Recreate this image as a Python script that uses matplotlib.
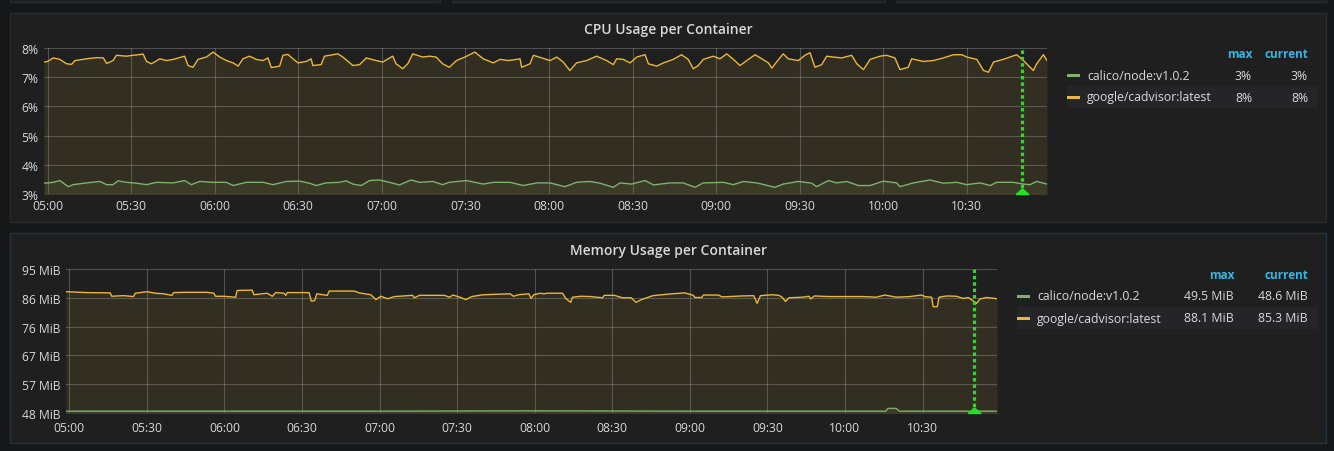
import numpy as np
import pandas as pd
import matplotlib
matplotlib.use("Agg")
import matplotlib.pyplot as plt
import matplotlib.dates as mdates
from matplotlib.patches import Rectangle
from matplotlib.ticker import FixedLocator, FuncFormatter

# ---------------------------
# Figure / theme
# ---------------------------
W, H = 1334, 452
plt.rcParams['font.family'] = ['Open Sans', 'DejaVu Sans']

PAGE_BG = '#161719'
PANEL_BG = '#1f1f20'
TEXT = '#d8d9da'
HEADER = '#33b5e5'
GRID = '#9a9a9a'
ANNO = '#22e022'

SERIES = ["calico/node:v1.0.2", "google/cadvisor:latest"]
COLORS = ['#7eb26d', '#eab839']

START = pd.Timestamp("2017-03-01 05:00")
X_FROM, X_TO = -1.3, 358.8      # minutes after 05:00
ANNOTATION_MIN = 349.8

# ---------------------------
# CPU (%), minutes after 05:00
# ---------------------------
cpu_calico_t = [-1.3, 2.0, 4.4, 7.4, 9.2, 14.0, 18.8, 21.2, 23.5, 25.3, 28.3, 31.9, 35.5,
                39.1, 45.1, 49.2, 51.6, 54.6, 59.4, 64.2, 66.6, 71.3, 77.3, 80.9, 85.7,
                90.5, 94.0, 96.4, 100.0, 104.8, 107.2, 109.6, 112.6, 115.6, 119.1, 122.7,
                126.3, 130.5, 133.5, 138.3, 141.8, 144.2,
                150.4, 156.4, 160.0, 166.0, 170.8, 175.6, 180.4, 185.7, 189.9, 194.7, 198.3,
                203.1, 205.5, 209.7, 214.5, 217.5, 223.4, 228.2, 232.4, 235.4, 242.6, 246.2,
                249.8, 254.6, 261.1, 264.1, 269.5, 274.3, 276.1, 280.3, 283.3, 286.9, 291.1,
                295.3, 300.0, 304.8, 306.0,
                310.8, 316.8, 321.6, 326.4, 330.0, 334.8, 338.4, 340.7, 346.7, 350.3, 352.7,
                355.1, 358.8]
cpu_calico_v = [3.37, 3.40, 3.46, 3.25, 3.32, 3.38, 3.43, 3.32, 3.32, 3.45, 3.40, 3.37, 3.32,
                3.40, 3.38, 3.46, 3.32, 3.43, 3.40, 3.40, 3.29, 3.40, 3.40, 3.32, 3.43,
                3.44, 3.37, 3.29, 3.38, 3.40, 3.45, 3.34, 3.29, 3.46, 3.48, 3.40,
                3.31, 3.48, 3.40, 3.43, 3.32, 3.40,
                3.46, 3.34, 3.40, 3.40, 3.29, 3.38, 3.38, 3.25, 3.40, 3.43, 3.37,
                3.23, 3.38, 3.34, 3.46, 3.31, 3.38, 3.38, 3.23, 3.38, 3.40, 3.32,
                3.43, 3.38, 3.23, 3.34, 3.43, 3.37, 3.25, 3.46, 3.38, 3.43, 3.29,
                3.29, 3.44, 3.38, 3.25,
                3.38, 3.48, 3.37, 3.40, 3.32, 3.38, 3.29, 3.40, 3.40, 3.34, 3.32,
                3.43, 3.34]

cpu_cadvisor_t = [-1.3, 0.0, 2.0, 4.4, 6.8, 8.6, 9.8, 14.0, 17.6, 20.0, 21.2, 23.5, 24.7,
                  28.3, 30.7, 34.3, 35.5, 37.3, 40.3, 42.7, 45.1, 49.2, 50.4, 52.2, 54.0,
                  57.0, 59.4, 61.8, 64.2, 66.6, 68.4, 70.1, 72.5, 74.9, 77.3, 79.1, 80.3,
                  83.3, 84.5, 86.3, 88.1, 89.9, 92.9, 94.6, 95.2, 98.2, 99.4, 102.4, 104.2,
                  106.0, 109.6, 112.0, 114.4, 117.9, 120.3, 123.9, 125.1, 127.5, 129.3, 131.1,
                  134.7, 137.1, 139.5, 141.8, 144.2,
                  146.8, 149.8, 153.4, 156.4, 160.0, 162.4, 165.4, 168.4, 169.6, 170.2, 173.2,
                  174.4, 177.4, 180.4, 182.8, 185.1, 187.5, 189.9, 193.5, 197.1, 200.7, 203.1,
                  204.3, 206.7, 209.1, 211.5, 214.5, 215.7, 218.7, 221.1, 224.6, 227.6, 230.0,
                  231.8, 233.6, 235.4, 239.0, 241.4, 243.8, 246.2, 248.6, 251.0, 254.0, 256.4,
                  258.8, 260.0, 261.7, 264.1, 265.9, 269.5, 271.9, 273.7, 275.5, 277.9, 279.7,
                  282.1, 285.1, 288.7, 290.5, 292.9, 295.3, 298.9, 301.2, 304.2, 306.0,
                  309.0, 310.2, 314.4, 318.0, 321.6, 325.2, 328.2, 330.0, 333.6, 336.0, 337.8,
                  339.6, 343.1, 345.5, 347.9, 349.7, 351.5, 353.9, 355.1, 357.5, 358.8]
cpu_cadvisor_v = [7.52, 7.54, 7.66, 7.61, 7.46, 7.44, 7.57, 7.63, 7.67, 7.66, 7.47, 7.57, 7.75,
                  7.72, 7.75, 7.79, 7.54, 7.46, 7.63, 7.57, 7.61, 7.72, 7.40, 7.34, 7.61,
                  7.69, 7.86, 7.69, 7.57, 7.49, 7.38, 7.63, 7.72, 7.61, 7.57, 7.66, 7.33,
                  7.38, 7.75, 7.78, 7.63, 7.49, 7.54, 7.63, 7.40, 7.43, 7.72, 7.77, 7.80,
                  7.69, 7.40, 7.43, 7.66, 7.57, 7.52, 7.72, 7.46, 7.29, 7.46, 7.80,
                  7.69, 7.72, 7.69, 7.46, 7.34,
                  7.57, 7.69, 7.86, 7.63, 7.49, 7.61, 7.57, 7.61, 7.63, 7.34, 7.46,
                  7.75, 7.66, 7.57, 7.69, 7.52, 7.23, 7.49, 7.57, 7.72, 7.57, 7.43,
                  7.63, 7.61, 7.49, 7.69, 7.77, 7.46, 7.38, 7.49, 7.61, 7.77, 7.61,
                  7.29, 7.40, 7.61, 7.72, 7.63, 7.80, 7.61, 7.40, 7.57, 7.77, 7.63,
                  7.49, 7.31, 7.52, 7.80, 7.63, 7.57, 7.75, 7.84, 7.34, 7.43, 7.72,
                  7.69, 7.66, 7.75, 7.46, 7.26, 7.61, 7.72, 7.75, 7.66, 7.26,
                  7.34, 7.63, 7.54, 7.57, 7.66, 7.77, 7.77, 7.69, 7.61, 7.23, 7.17,
                  7.52, 7.61, 7.69, 7.77, 7.63, 7.46, 7.23, 7.46, 7.77, 7.57]

# ---------------------------
# Memory (MiB), minutes after 05:00
# ---------------------------
mem_calico_t = [-1.3, 60.0, 120.0, 180.0, 240.0, 300.0, 315.8, 316.6, 319.8, 321.0, 358.8]
mem_calico_v = [48.6, 48.6, 48.6, 48.7, 48.6, 48.6, 48.6, 49.5, 49.5, 48.6, 48.6]

mem_cadvisor_t = [-1.3, 6.7, 15.8, 16.4, 20.9, 24.8, 25.5, 30.0, 33.2, 36.5, 39.7, 40.3,
                  45.5, 53.3, 55.9, 56.5, 59.7, 64.3, 64.9, 70.7, 71.4, 76.5, 78.5, 79.8,
                  83.0, 83.7, 84.3, 92.7, 93.6, 94.9, 95.7, 99.8, 100.5, 110.2, 112.1, 116.6,
                  118.6, 120.5, 123.1, 125.7, 132.8, 133.4, 135.4, 145.1, 147.0,
                  148.4, 151.0, 153.4, 155.6, 160.1, 170.5, 171.8, 173.8, 177.7, 178.6, 179.6,
                  182.2, 183.5, 184.8, 190.7, 192.0, 193.9, 194.6, 197.8, 201.7, 206.2, 206.9,
                  210.8, 214.0, 217.3, 219.2, 221.2, 225.7, 232.9, 238.1, 241.3, 242.0, 244.6,
                  245.2, 251.1, 252.4, 260.2, 264.7, 266.0, 267.3, 271.8, 274.4, 275.7, 277.0,
                  278.3, 283.5, 286.1, 286.8, 288.1, 293.9, 299.1, 306.9, 312.1,
                  315.4, 319.9, 325.1, 329.6, 330.9, 333.5, 334.1, 335.7, 336.4, 339.3, 343.1,
                  345.7, 347.7, 348.9, 350.9, 352.2, 354.7, 358.8]
mem_cadvisor_v = [87.6, 87.3, 87.2, 86.1, 86.3, 86.0, 87.1, 87.6, 87.1, 86.9, 86.4, 87.3,
                  87.4, 87.4, 87.1, 86.1, 86.1, 85.8, 88.0, 88.1, 86.6, 87.1, 86.1, 87.3,
                  87.1, 86.4, 87.3, 87.3, 84.5, 84.7, 86.9, 86.4, 87.8, 87.8, 87.2, 86.6,
                  85.0, 86.1, 85.3, 86.0, 86.4, 85.6, 86.4, 86.4, 85.8,
                  86.5, 85.8, 85.0, 86.0, 86.6, 86.9, 86.1, 86.6, 86.9, 85.4, 86.6,
                  87.1, 86.9, 87.1, 87.1, 85.4, 84.1, 85.8, 86.1, 86.0, 85.6, 86.4,
                  86.4, 85.6, 85.6, 84.1, 85.0, 86.3, 86.9, 87.2, 86.4, 85.7, 85.7,
                  86.5, 86.5, 85.9, 86.2, 86.3, 83.8, 86.3, 86.6, 86.4, 85.8, 84.4,
                  85.6, 85.8, 86.1, 85.2, 86.2, 86.0, 86.0, 86.0, 85.8,
                  86.5, 85.8, 86.0, 86.5, 86.0, 85.8, 82.7, 82.7, 85.8, 86.2, 86.1,
                  85.4, 85.7, 85.0, 83.8, 85.2, 85.7, 85.3]

CPU_YLIM = (3, 8)
MEM_YLIM = (48, 95)


def to_time(minutes):
    return START + pd.to_timedelta(np.asarray(minutes, dtype=float), unit='m')


def px_box(l, t, r, b):
    # pixel box (from top-left) -> figure fraction [x, y, w, h]
    return [l / W, 1 - b / H, (r - l) / W, (b - t) / H]


def fy(y):
    return 1 - y / H


def fx(x):
    return x / W


def panel(fig, l, t, r, b, edge='#2a2a2b'):
    x, y, w, h = px_box(l, t, r, b)
    fig.add_artist(Rectangle((x, y), w, h, transform=fig.transFigure,
                             facecolor=PANEL_BG, edgecolor=edge, lw=1.0, zorder=0))


def draw_graph(ax, series, ylim, yticks, yfmt, xpad):
    for (t, v), c in zip(series, COLORS):
        tt = to_time(t)
        ax.fill_between(tt, v, 0, color=c, alpha=0.1, lw=0, zorder=1)
        ax.plot(tt, v, color=c, lw=1.0, zorder=3)
    ax.set_facecolor('none')
    ax.set_xlim(to_time(X_FROM), to_time(X_TO))
    ax.set_ylim(*ylim)
    ax.yaxis.set_major_locator(FixedLocator(yticks))
    ax.yaxis.set_major_formatter(FuncFormatter(yfmt))
    ax.xaxis.set_major_locator(mdates.MinuteLocator(byminute=[0, 30]))
    ax.xaxis.set_major_formatter(mdates.DateFormatter('%H:%M'))
    ax.grid(True, color=GRID, alpha=0.4, lw=0.8, zorder=2)
    for s in ax.spines.values():
        s.set_visible(False)
    ax.tick_params(axis='both', length=0, colors=TEXT, labelsize=8.7)
    ax.tick_params(axis='x', pad=xpad)
    ax.tick_params(axis='y', pad=4)
    # annotation marker
    at = to_time([ANNOTATION_MIN])[0]
    ax.axvline(at, color=ANNO, lw=2.3, linestyle=(0, (1.1, 0.9)), zorder=4)
    ax.plot([at], [ylim[0]], marker=[(-1, 0), (1, 0), (0, 0.9), (-1, 0)],
            ms=9, color=ANNO, clip_on=False, zorder=5)


def draw_legend(fig, names, maxes, currents, header_y, row_y, sw_x, label_x,
                max_r, cur_r, band):
    fig.text(fx(max_r), fy(header_y), 'max', color=HEADER, fontsize=8.5,
             fontweight='bold', ha='right', va='center')
    fig.text(fx(cur_r), fy(header_y), 'current', color=HEADER, fontsize=8.5,
             fontweight='bold', ha='right', va='center')
    bx = px_box(*band)
    fig.add_artist(Rectangle((bx[0], bx[1]), bx[2], bx[3], transform=fig.transFigure,
                             facecolor='#252527', edgecolor='none', zorder=1))
    for name, c, mx, cur, y in zip(names, COLORS, maxes, currents, row_y):
        sx = px_box(sw_x, y - 1.5, sw_x + 13, y + 1.5)
        fig.add_artist(Rectangle((sx[0], sx[1]), sx[2], sx[3], transform=fig.transFigure,
                                 facecolor=c, edgecolor='none', zorder=2))
        fig.text(fx(label_x), fy(y), name, color=TEXT, fontsize=8.8, ha='left', va='center')
        fig.text(fx(max_r), fy(y), mx, color=TEXT, fontsize=8.8, ha='right', va='center')
        fig.text(fx(cur_r), fy(y), cur, color=TEXT, fontsize=8.8, ha='right', va='center')


fig = plt.figure(figsize=(W / 100, H / 100), dpi=100)
fig.patch.set_facecolor(PAGE_BG)

# panels (top row only partly visible)
panel(fig, 10, -10, 440, 3)
panel(fig, 452, -10, 885, 3)
panel(fig, 896, -10, 1326, 3)
panel(fig, 10, 14, 1326, 223)
panel(fig, 10, 234, 1326, 444, edge='#26323d')

# ---------------------------
# CPU panel
# ---------------------------
fig.text(fx(668), fy(30), 'CPU Usage per Container', color=TEXT, fontsize=10,
         fontweight='semibold', ha='center', va='center')
ax1 = fig.add_axes(px_box(44, 49, 1047, 195))
cpu_series = [(cpu_calico_t, cpu_calico_v), (cpu_cadvisor_t, cpu_cadvisor_v)]
draw_graph(ax1, cpu_series, CPU_YLIM, [3, 4, 5, 6, 7, 8],
           lambda v, p: f"{v:.0f}%", xpad=3.5)
draw_legend(fig, SERIES,
            [f"{max(v):.0f}%" for _, v in cpu_series],
            [f"{v[-1]:.0f}%" for _, v in cpu_series],
            header_y=55, row_y=[76, 98], sw_x=1067, label_x=1087,
            max_r=1252, cur_r=1308, band=(1067, 87, 1318, 109))

# ---------------------------
# Memory panel
# ---------------------------
fig.text(fx(668), fy(251), 'Memory Usage per Container', color=TEXT, fontsize=10,
         fontweight='semibold', ha='center', va='center')
ax2 = fig.add_axes(px_box(66, 270, 997, 414))
mem_series = [(mem_calico_t, mem_calico_v), (mem_cadvisor_t, mem_cadvisor_v)]
draw_graph(ax2, mem_series, MEM_YLIM, np.linspace(MEM_YLIM[0], MEM_YLIM[1], 6),
           lambda v, p: f"{v:.0f} MiB", xpad=6)
draw_legend(fig, SERIES,
            [f"{max(v):.1f} MiB" for _, v in mem_series],
            [f"{v[-1]:.1f} MiB" for _, v in mem_series],
            header_y=276, row_y=[297, 319], sw_x=1017, label_x=1037,
            max_r=1234, cur_r=1308, band=(1017, 308, 1318, 330))

fig.savefig('out.png', dpi=100, facecolor=fig.get_facecolor())
